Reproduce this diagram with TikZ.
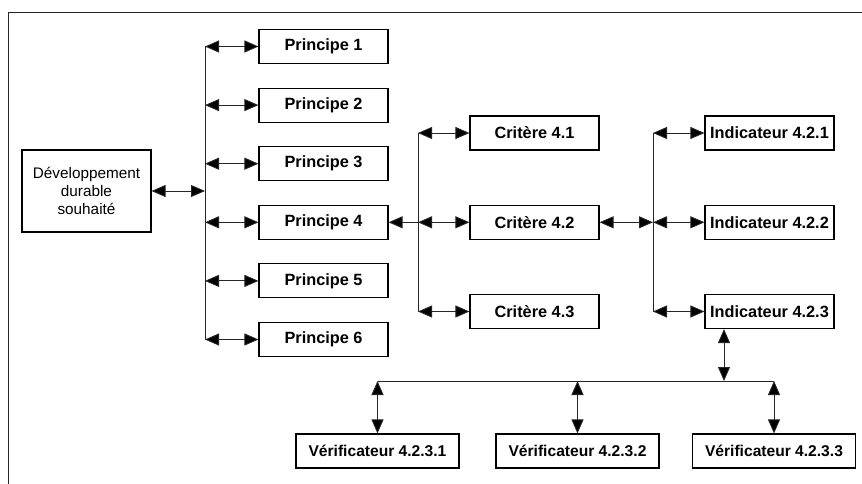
\documentclass[tikz,border=0pt]{standalone}
\usepackage{fontspec}
\setmainfont{Liberation Sans}
\usetikzlibrary{arrows.meta}
\tikzset{
  box/.style={draw=black, line width=1.1pt, minimum width=129pt, minimum height=34pt, inner sep=0pt, font=\fontsize{16.3}{18}\selectfont\bfseries, fill=white},
  vbox/.style={box, minimum width=163pt, font=\fontsize{15.6}{18}\selectfont\bfseries},
  devbox/.style={draw=black, line width=1.1pt, minimum width=129pt, minimum height=82pt, inner sep=0pt, align=center, font=\fontsize{15.3}{18}\selectfont},
  conn/.style={line width=0.9pt, draw=black!85},
  both/.style={conn, {Triangle[length=14pt,width=12pt,fill=black]}-{Triangle[length=14pt,width=12pt,fill=black]}},
  lefttip/.style={conn, {Triangle[length=14pt,width=12pt,fill=black]}-},
  frame/.style={line width=1.4pt, draw=black!85}
}
\begin{document}
\begin{tikzpicture}[x=1pt,y=-1pt]
\useasboundingbox (0,0) rectangle (862,484);
% frame (top and left sides visible)
\coordinate (frTR) at (862,12.7);
\coordinate (frTL) at (8.5,12.7);
\coordinate (frBL) at (8.5,484);
\draw[frame] (frTR) -- (frTL) -- (frBL);

% nodes
\node[devbox] (dev) at (86.5,191) {Développement\\durable\\souhaité};
\node[box] (p1) at (323.5,46.5) {Principe 1};
\node[box] (p2) at (323.5,105.1) {Principe 2};
\node[box] (p3) at (323.5,163.7) {Principe 3};
\node[box] (p4) at (323.5,222.3) {Principe 4};
\node[box] (p5) at (323.5,280.9) {Principe 5};
\node[box] (p6) at (323.5,339.5) {Principe 6};

\node[box] (c1) at (534.5,133) {Critère 4.1};
\node[box] (c2) at (534.5,222.3) {Critère 4.2};
\node[box] (c3) at (534.5,311.5) {Critère 4.3};

\node[box] (i1) at (769.5,133) {Indicateur 4.2.1};
\node[box] (i2) at (769.5,222.3) {Indicateur 4.2.2};
\node[box] (i3) at (769.5,311.5) {Indicateur 4.2.3};

\node[vbox] (v1) at (377.5,451) {Vérificateur 4.2.3.1};
\node[vbox] (v2) at (577.5,451) {Vérificateur 4.2.3.2};
\node[vbox] (v3) at (774,451) {Vérificateur 4.2.3.3};

% bus coordinates
\coordinate (bus1) at (205,191);
\coordinate (bus2) at (418,222.3);
\coordinate (bus3) at (653,222.3);
\coordinate (bus4) at (724,381);

% development to first bus
\draw[both] (dev.east) -- (bus1);
\draw[conn] (p1.west -| bus1) -- (p6.west -| bus1);
\foreach \n in {p1,p2,p3,p4,p5,p6}{
  \draw[both] (\n.west -| bus1) -- (\n.west);
}

% principe 4 to critères
\draw[lefttip] (p4.east) -- (bus2);
\draw[conn] (c1.west -| bus2) -- (c3.west -| bus2);
\foreach \n in {c1,c2,c3}{
  \draw[both] (\n.west -| bus2) -- (\n.west);
}

% critère 4.2 to indicateurs
\draw[both] (c2.east) -- (bus3);
\draw[conn] (i1.west -| bus3) -- (i3.west -| bus3);
\foreach \n in {i1,i2,i3}{
  \draw[both] (\n.west -| bus3) -- (\n.west);
}

% indicateur 4.2.3 to vérificateurs
\draw[both] (bus4 |- i3.south) -- (bus4);
\draw[conn] (v1.north |- bus4) -- (v3.north |- bus4);
\foreach \n in {v1,v2,v3}{
  \draw[both] (\n.north |- bus4) -- (\n.north);
}
\end{tikzpicture}
\end{document}
